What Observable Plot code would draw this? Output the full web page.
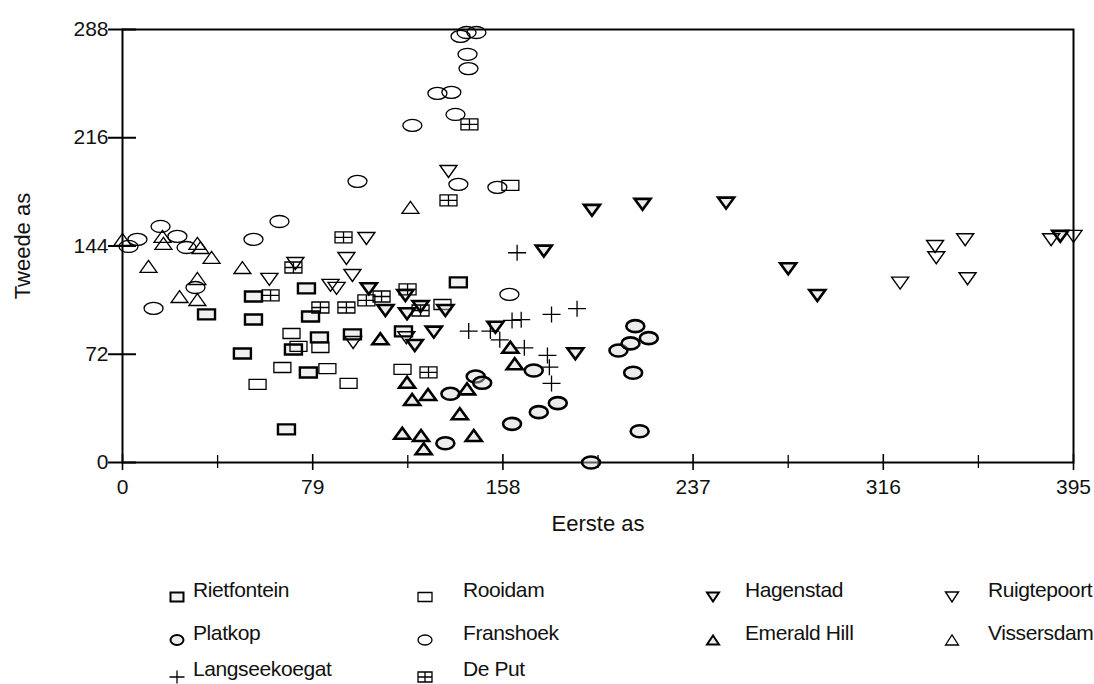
<!DOCTYPE html>
<html><head><meta charset="utf-8">
<script src="https://cdn.jsdelivr.net/npm/d3@7"></script>
<script src="https://cdn.jsdelivr.net/npm/@observablehq/plot@0.6"></script>
<style>
body{margin:0;background:#fff;font-family:"Liberation Sans",Arial,sans-serif;}
#chart{position:relative;width:1094px;height:684px;overflow:hidden;}
#legend{position:relative;height:139px;}
.item{position:absolute;font-size:21px;letter-spacing:-0.4px;color:#111;white-space:nowrap;line-height:20px;}
.glyph{position:absolute;}
#chart svg g[aria-label="x-axis tick label"], #chart svg g[aria-label="y-axis tick label"]{font-size:21px;}
</style></head><body><div id="chart"></div>
<script>
// ---- data (Eerste as, Tweede as) ----
const rietfontein = [[34.9,98.5],[49.8,72.5],[54.4,110.4],[54.4,95.1],[68.1,22],[71,75.2],[76.4,115.8],[78.1,97.1],[81.8,83.2],[77.2,59.9],[95.5,85.2],[116.7,87.2],[139.5,119.8]];
const rooidam = [[70.2,85.8],[73.1,77.2],[82.2,76.5],[66.4,63.2],[85.1,62.5],[56.1,51.9],[93.9,52.6],[116.3,61.9],[132.9,105.1],[161.1,184.3]];
const hagenstad = [[102.3,115.6],[109.2,101.1],[117.5,111.1],[118.2,98.9],[123.8,103.8],[134.1,101.1],[121.4,77.8],[129.3,86.7],[154.9,90],[175,140.6],[188.1,72.3],[195,167.7],[216,171.7],[250.7,172.5],[276.5,128.9],[288.6,111.1],[389.5,150.4]];
const ruigtepoort = [[61,121.8],[71.8,132.4],[86.4,117.8],[88.9,115.8],[93,135.7],[95.5,124.4],[95.8,79.8],[117.9,83],[101.3,149],[135.4,193.6],[323,119.3],[337.5,143.7],[338,136.2],[350,148.2],[351,122.2],[385.7,148.2],[395,150.4]];
const platkop = [[134.1,12.8],[136.2,45.7],[146.7,57.2],[149.4,53],[161.8,25.7],[170.8,61.2],[172.9,33.5],[180.8,39.5],[194.6,0],[206,74.5],[211,79.2],[212.1,59.7],[213,90.7],[214.8,20.8],[218.6,82.7]];
const franshoek = [[2.5,143.7],[6.2,148.4],[12.9,102.5],[15.8,157],[22.8,150.4],[26.6,143],[30.3,116.4],[54.4,148.4],[65.2,160.3],[97.6,187],[120.4,224.2],[130.8,245.5],[136.6,246.2],[138.3,231.5],[139.5,185],[140.4,283.4],[142.9,286],[143.3,271.5],[143.7,262],[147,286],[155.7,183],[160.7,111.8]];
const emeraldHill = [[107.1,82.3],[116.2,19.5],[118.2,53.4],[120.3,41.9],[124,18],[125.1,9.1],[126.9,45.2],[140.1,32.4],[143.1,49],[145.9,18],[161.1,76.7],[162.9,65.7]];
const vissersdam = [[0,148.4],[10.8,130.4],[16.6,150.4],[17,145.7],[23.7,110.4],[31.1,145.7],[32.4,143],[31.1,122.4],[31.1,108.4],[37,136.4],[49.8,129.7],[119.6,169.7]];
const langseekoegat = [[143.8,87.4],[152.8,87.4],[156.7,81.6],[161.8,94.5],[165.6,95],[163.9,139.5],[166.9,76.3],[176.5,71.2],[177.3,63.4],[178.2,52.6],[178.2,98.5],[188.8,102.3]];
const dePut = [[61.5,111.1],[71,129.7],[82.2,103.1],[91.8,149.7],[93,103.1],[101.3,107.8],[107.6,110.4],[118.4,115.1],[123.8,101.1],[127.1,59.9],[135.4,174.3],[144.1,224.9]];

const seriesNames = ["Rietfontein","Rooidam","Hagenstad","Ruigtepoort","Platkop","Franshoek","Emerald Hill","Vissersdam","Langseekoegat","De Put"];
const xTicks = [0,79,158,237,316,395];
const xMinorTicks = [39.5,118.5,197.5,276.5,355.5];
const yTicks = [0,72,144,216,288];
const xTitle = "Eerste as";
const yTitle = "Tweede as";

// ---- custom symbols ----
const rectSym = (w,h) => ({draw(c){ c.rect(-w/2,-h/2,w,h); }});
const gridSym = (w,h) => ({draw(c){ c.rect(-w/2,-h/2,w,h); c.moveTo(0,-h/2); c.lineTo(0,h/2); c.moveTo(-w/2,0); c.lineTo(w/2,0); }});
const ellSym = (rx,ry) => ({draw(c){ const k=0.5523;
  c.moveTo(rx,0); c.bezierCurveTo(rx,ry*k,rx*k,ry,0,ry); c.bezierCurveTo(-rx*k,ry,-rx,ry*k,-rx,0);
  c.bezierCurveTo(-rx,-ry*k,-rx*k,-ry,0,-ry); c.bezierCurveTo(rx*k,-ry,rx,-ry*k,rx,0); c.closePath(); }});
const triDown = (w,h) => ({draw(c){ c.moveTo(-w/2,-h/2); c.lineTo(w/2,-h/2); c.lineTo(0,h/2); c.closePath(); }});
const triUp = (w,h) => ({draw(c){ c.moveTo(-w/2,h/2); c.lineTo(w/2,h/2); c.lineTo(0,-h/2); c.closePath(); }});
const plusSym = (w,h) => ({draw(c){ c.moveTo(-w/2,0); c.lineTo(w/2,0); c.moveTo(0,-h/2); c.lineTo(0,h/2); }});

const seriesData = [rietfontein, rooidam, hagenstad, ruigtepoort, platkop, franshoek, emeraldHill, vissersdam, langseekoegat, dePut];
const styles = [
  {sym: rectSym(17,10), leg: rectSym(13,9), sw: 2.4, fill:"#e0e0e0"},
  {sym: rectSym(17,10), leg: rectSym(14,9), sw: 1.3, fill:"none"},
  {sym: triDown(16,11), leg: triDown(12,9), sw: 2.6, fill:"#d4d4d4"},
  {sym: triDown(17,12), leg: triDown(13,10), sw: 1.4, fill:"none"},
  {sym: ellSym(9,6), leg: ellSym(6.5,5), sw: 2.6, fill:"#d4d4d4"},
  {sym: ellSym(9.5,6), leg: ellSym(7,5), sw: 1.3, fill:"none"},
  {sym: triUp(16,11), leg: triUp(12,9), sw: 2.6, fill:"#d4d4d4"},
  {sym: triUp(17,12), leg: triUp(13,10), sw: 1.3, fill:"none"},
  {sym: plusSym(18,16), leg: plusSym(15,13), sw: 1.3, fill:"none"},
  {sym: gridSym(17,11), leg: gridSym(14,10), sw: 1.3, fill:"none"}
];

const W = 1094, H = 545, mL = 122, mR = 21, mT = 29, mB = 83;
const innerW = W - mL - mR, innerH = H - mT - mB;

const marks = [
  Plot.frame({stroke:"#000", strokeWidth:2}),
  Plot.tickY(yTicks, {y: d=>d, stroke:"#000", strokeWidth:2, insetLeft:-14, insetRight: innerW-14}),
  Plot.tickX(xTicks, {x: d=>d, stroke:"#000", strokeWidth:1.6, insetTop: innerH-8, insetBottom:-8}),
  Plot.tickX(xMinorTicks, {x: d=>d, stroke:"#000", strokeWidth:1.3, insetTop: innerH-7, insetBottom:-6}),
  Plot.axisX(xTicks, {tickSize:0, tickPadding:17, fontSize:21, label:null}),
  Plot.axisY(yTicks, {tickSize:0, tickPadding:14, fontSize:21, label:null}),
  Plot.text([xTitle], {text: d=>d, frameAnchor:"bottom", lineAnchor:"middle", textAnchor:"middle", dy:61, fontSize:22, fill:"#111"}),
  Plot.text([yTitle], {text: d=>d, frameAnchor:"left", textAnchor:"middle", lineAnchor:"middle", dx:-100, rotate:-90, fontSize:22, fill:"#111"})
];
seriesData.forEach((arr, i) => {
  const st = styles[i];
  marks.push(Plot.dot(arr.map(([x,y]) => ({x, y, s: seriesNames[i]})), {
    x:"x", y:"y", symbol: st.sym, stroke:"#000", fill: st.fill, fillOpacity: 0.45, strokeWidth: st.sw
  }));
});

const plot = Plot.plot({
  width: W, height: H, marginLeft: mL, marginRight: mR, marginTop: mT, marginBottom: mB,
  style: {fontFamily: '"Liberation Sans", Arial, sans-serif', fontSize: "21px", color: "#111", background: "#fff"},
  x: {domain: [0,395], label: null},
  y: {domain: [0,288], label: null},
  marks
});
const chart = document.getElementById("chart");
chart.appendChild(plot);

// ---- legend ----
const legend = document.createElement("div");
legend.id = "legend";
chart.appendChild(legend);
const colGlyph = [177, 425, 713, 952];
const colText = [193, 463, 745, 988];
const rowText = [45, 88, 124];
const rowGlyph = [52, 95, 132];
seriesNames.forEach((name, i) => {
  const r = Math.floor(i/4), c = i % 4;
  const svg = d3.create("svg").attr("class","glyph").attr("width",24).attr("height",24)
    .style("left", (colGlyph[c]-12)+"px").style("top", (rowGlyph[r]-12)+"px");
  const p = d3.path(); styles[i].leg.draw(p);
  svg.append("path").attr("d", p.toString()).attr("transform","translate(12,12)")
    .attr("stroke","#000").attr("fill", styles[i].fill).attr("fill-opacity",0.45)
    .attr("stroke-width", Math.min(styles[i].sw, 2));
  legend.appendChild(svg.node());
  const t = document.createElement("div");
  t.className = "item"; t.textContent = name;
  t.style.left = colText[c]+"px"; t.style.top = (rowText[r]-10)+"px";
  legend.appendChild(t);
});
</script></body></html>
